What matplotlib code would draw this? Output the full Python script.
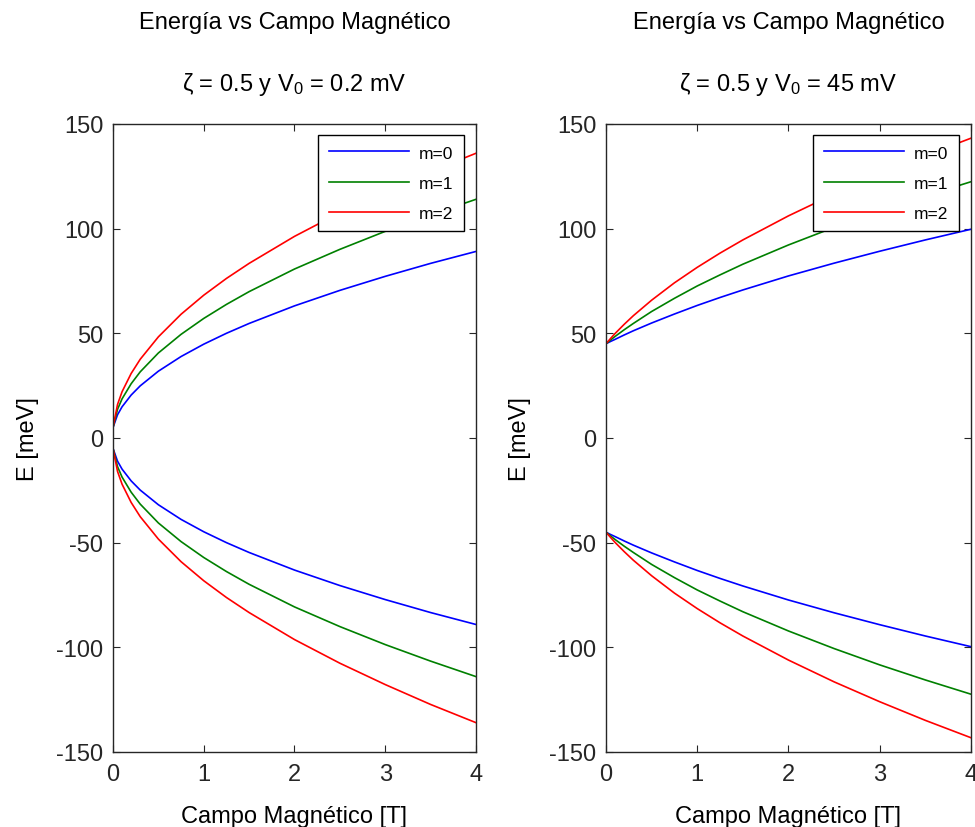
import matplotlib
matplotlib.use("Agg")
import matplotlib.pyplot as plt

plt.rcParams['font.family'] = ['Liberation Sans', 'DejaVu Sans']
plt.rcParams['axes.unicode_minus'] = False
plt.rcParams['mathtext.fontset'] = 'custom'
plt.rcParams['mathtext.rm'] = 'Liberation Sans'
plt.rcParams['mathtext.it'] = 'Liberation Sans'

# magnetic field [T]
campo = [0, 0.05, 0.1, 0.2, 0.3, 0.5, 0.75, 1, 1.25, 1.5, 2, 2.5, 3, 3.5, 4]

# left panel, V0 = 0.2 mV (upper branch, lower branch is the mirror)
e_izq_m0 = [5, 11.1, 14.9, 20.5, 24.9, 31.9, 38.9, 44.8, 50.0, 54.7, 63.1, 70.5, 77.2, 83.4, 89.1]
e_izq_m1 = [5, 13.7, 18.7, 25.9, 31.6, 40.6, 49.5, 57.1, 63.8, 69.9, 80.7, 90.1, 98.7, 106.6, 114.0]
e_izq_m2 = [5, 16.0, 22.1, 30.8, 37.6, 48.3, 59.1, 68.2, 76.2, 83.4, 96.3, 107.6, 117.8, 127.3, 136.0]

# right panel, V0 = 45 mV
e_der_m0 = [45, 46.1, 47.1, 49.2, 51.2, 54.9, 59.2, 63.3, 67.1, 70.7, 77.4, 83.5, 89.2, 94.6, 99.7]
e_der_m1 = [45, 46.8, 48.5, 51.7, 54.7, 60.4, 66.7, 72.6, 77.9, 83.0, 92.2, 100.6, 108.4, 115.6, 122.4]
e_der_m2 = [45, 47.5, 49.9, 54.3, 58.4, 65.8, 74.1, 81.5, 88.3, 94.6, 106.1, 116.5, 126.0, 134.9, 143.2]

etiquetas = ["m=0", "m=1", "m=2"]
colores = ["#0000ff", "#008000", "#ff0000"]
subtitulos = ["ζ = 0.5 y V$_\\mathrm{0}$ = 0.2 mV", "ζ = 0.5 y V$_\\mathrm{0}$ = 45 mV"]

fs = 17

fig = plt.figure(figsize=(9.75, 8.28), dpi=100)
ax1 = fig.add_axes([0.1159, 0.0906, 0.3723, 0.7585])
ax2 = fig.add_axes([0.6215, 0.0906, 0.3744, 0.7585])

paneles = [(ax1, [e_izq_m0, e_izq_m1, e_izq_m2]), (ax2, [e_der_m0, e_der_m1, e_der_m2])]

for k, (ax, series) in enumerate(paneles):
    for serie, col, lab in zip(series, colores, etiquetas):
        ax.plot(campo, serie, color=col, lw=1.2, label=lab)
    for serie, col in zip(series, colores):
        ax.plot(campo, [-v for v in serie], color=col, lw=1.2)

    ax.set_xlim(0, 4)
    ax.set_ylim(-150, 150)
    ax.set_xticks([0, 1, 2, 3, 4])
    ax.set_yticks([-150, -100, -50, 0, 50, 100, 150])
    ax.tick_params(direction='in', top=True, right=True, labelsize=fs, length=5,
                   colors='#262626')
    ax.tick_params(axis='x', pad=8)
    ax.tick_params(axis='y', pad=7)
    for s in ax.spines.values():
        s.set_linewidth(1.0)
        s.set_color('#262626')
    ax.set_xlabel("Campo Magnético [T]", fontsize=fs, va='baseline')
    ax.set_ylabel("E [meV]", fontsize=fs)
    ax.xaxis.set_label_coords(0.5, -0.112)
    ax.yaxis.set_label_coords(-0.204, 0.5)
    ax.text(0.5, 1.152, "Energía vs Campo Magnético", transform=ax.transAxes,
            ha='center', va='baseline', fontsize=fs)
    ax.text(0.5, 1.054, subtitulos[k], transform=ax.transAxes,
            ha='center', va='baseline', fontsize=fs)

    leg = ax.legend(loc='upper right', fontsize=12.5, handlelength=4.6, fancybox=False,
                    framealpha=1, borderpad=0.6, labelspacing=0.86, handletextpad=0.6,
                    borderaxespad=0, bbox_to_anchor=(0.967, 0.9825))
    leg.get_frame().set_edgecolor('black')
    leg.get_frame().set_linewidth(1.0)

fig.savefig("out.png", dpi=100)
